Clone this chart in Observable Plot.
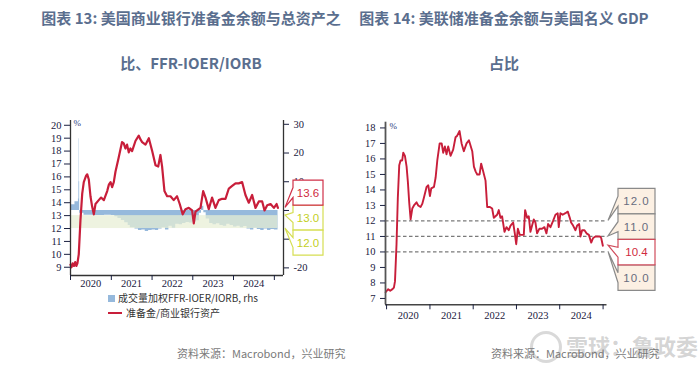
<!DOCTYPE html>
<html><head><meta charset="utf-8">
<script src="https://cdn.jsdelivr.net/npm/d3@7"></script>
<script src="https://cdn.jsdelivr.net/npm/@observablehq/plot@0.6"></script>
<style>
body{margin:0;width:700px;height:366px;position:relative;overflow:hidden;background:#fff;font-family:"Noto Sans CJK SC","Noto Sans",sans-serif;}
.title{position:absolute;top:-5px;width:330px;text-align:center;font-size:15px;font-weight:bold;color:#5a6e8e;line-height:45px;white-space:nowrap;}
.chart{position:absolute;top:100px;width:350px;height:266px;}
.src{position:absolute;top:345px;font-size:11px;line-height:16px;color:#7a7a7a;white-space:nowrap;}
.leg{position:absolute;font-size:10px;color:#333;white-space:nowrap;line-height:11px;font-family:"Noto Sans CJK SC",sans-serif;}
.wm{position:absolute;left:566px;top:330px;font-size:22px;line-height:30px;color:rgba(160,160,160,0.45);font-weight:bold;white-space:nowrap;}
.wmlogo{position:absolute;left:530px;top:331px;width:26px;height:26px;border:3px solid rgba(160,160,160,0.4);border-radius:50%;}
</style></head>
<body>
<div class="title" style="left:26px">图表 13: 美国商业银行准备金余额与总资产之<br>比、FFR-IOER/IORB</div>
<div class="title" style="left:339px">图表 14: 美联储准备金余额与美国名义 GDP<br>占比</div>
<div id="c1" class="chart" style="left:0"></div>
<div id="c2" class="chart" style="left:350px"></div>
<div class="leg" style="left:108px;top:292px"><span style="display:inline-block;width:7px;height:7px;background:#96b9dc;margin-right:3px;"></span>成交量加权FFR-IOER/IORB, rhs</div>
<div class="leg" style="left:108px;top:307px"><span style="display:inline-block;width:14px;height:2px;background:#c81e3a;margin-right:4px;vertical-align:3px"></span>准备金/商业银行资产</div>
<div class="wmlogo"></div>
<div class="wm">雪球：鲁政委</div>
<div class="src" style="left:177px">资料来源：Macrobond，兴业研究</div>
<div class="src" style="left:491px">资料来源：Macrobond，兴业研究</div>
<script>
// ---------------- data ----------------
const yearLabels = ["2020", "2021", "2022", "2023", "2024"];
const leftTicks = [9, 10, 11, 12, 13, 14, 15, 16, 17, 18, 19, 20];
const rightTicks = [-20, -10, 0, 10, 20, 30];
const rightTickLabels = ["-20", "", "", "10", "20", "30"]; // 0 and -10 sit behind the callouts
const gdpTicks = [7, 8, 9, 10, 11, 12, 13, 14, 15, 16, 17, 18];

// reserves / commercial bank assets, %
const reserveRatio = [
  ["2020-01-01", 9.2], ["2020-01-10", 9.0], ["2020-01-20", 9.3], ["2020-02-01", 9.1], ["2020-02-12", 9.4],
  ["2020-02-22", 9.1], ["2020-03-03", 9.3], ["2020-03-15", 10.0], ["2020-03-30", 12.6], ["2020-04-15", 14.7],
  ["2020-04-29", 15.6], ["2020-05-20", 16.1], ["2020-05-30", 16.2], ["2020-06-13", 15.8], ["2020-06-28", 14.5],
  ["2020-07-13", 13.7], ["2020-07-28", 13.1], ["2020-08-12", 13.9], ["2020-09-10", 14.2], ["2020-10-01", 14.4],
  ["2020-10-26", 14.2], ["2020-11-25", 14.9], ["2020-12-10", 15.4], ["2020-12-25", 15.6], ["2021-01-08", 15.2],
  ["2021-01-23", 15.6], ["2021-02-07", 16.4], ["2021-03-08", 17.5], ["2021-04-07", 18.7], ["2021-04-22", 18.6],
  ["2021-05-07", 18.2], ["2021-05-22", 18.5], ["2021-06-06", 17.9], ["2021-06-21", 18.2], ["2021-07-06", 18.0],
  ["2021-08-06", 18.8], ["2021-09-04", 19.2], ["2021-09-19", 18.9], ["2021-10-04", 18.7], ["2021-11-03", 18.5],
  ["2021-12-03", 19.0], ["2022-01-02", 18.0], ["2022-02-01", 16.9], ["2022-02-25", 16.8], ["2022-03-17", 17.7],
  ["2022-04-01", 16.8], ["2022-04-22", 14.9], ["2022-05-16", 14.5], ["2022-06-15", 14.5], ["2022-07-14", 14.2],
  ["2022-08-13", 14.5], ["2022-09-06", 13.9], ["2022-10-03", 13.1], ["2022-10-27", 13.5], ["2022-11-26", 13.6],
  ["2022-12-26", 13.4], ["2023-01-10", 12.4], ["2023-01-25", 13.3], ["2023-02-09", 13.4], ["2023-03-11", 13.6],
  ["2023-04-04", 14.9], ["2023-04-25", 14.4], ["2023-05-24", 13.5], ["2023-06-23", 14.4], ["2023-07-23", 13.6],
  ["2023-08-22", 14.2], ["2023-09-21", 14.3], ["2023-10-21", 14.3], ["2023-11-20", 15.1], ["2023-12-20", 15.3],
  ["2024-01-19", 15.5], ["2024-02-17", 15.5], ["2024-03-18", 15.6], ["2024-04-17", 14.6], ["2024-05-17", 14.0],
  ["2024-06-16", 14.6], ["2024-07-16", 13.6], ["2024-08-15", 14.1], ["2024-09-14", 14.1], ["2024-10-05", 13.4],
  ["2024-10-29", 13.8], ["2024-11-28", 13.9], ["2024-12-28", 13.6], ["2025-01-21", 13.9], ["2025-02-02", 13.6]
];

// volume-weighted FFR - IOER/IORB, bp (rhs)
const spreadBps = [
  ["2020-01-01", 2], ["2020-02-10", 3], ["2020-03-12", 4], ["2020-03-16", 25], ["2020-03-19", 10],
  ["2020-03-23", -1], ["2020-05-01", -1.7], ["2020-08-01", -1.8], ["2020-11-01", -1.7], ["2021-01-01", -1.8],
  ["2021-02-01", -2.2], ["2021-03-01", -2.8], ["2021-04-01", -3.5], ["2021-05-01", -4.3], ["2021-06-01", -5.2],
  ["2021-06-20", -6.0], ["2021-08-01", -6.5], ["2021-09-01", -7], ["2021-10-01", -6.8], ["2021-11-01", -7.3],
  ["2021-12-01", -7], ["2022-01-01", -6.8], ["2022-02-01", -7], ["2022-03-01", -6.5], ["2022-04-01", -6],
  ["2022-05-01", -6.8], ["2022-06-01", -5.5], ["2022-07-01", -6.2], ["2022-08-01", -4.8], ["2022-09-01", -5],
  ["2022-10-01", -4.5], ["2022-11-01", -4.2], ["2022-12-01", -4.4], ["2023-01-01", -4], ["2023-02-01", -3.6],
  ["2023-03-01", -1], ["2023-03-20", 1.5], ["2023-04-10", -0.8], ["2023-05-01", -3], ["2023-06-01", -4.5],
  ["2023-07-01", -5], ["2023-08-01", -4.6], ["2023-09-01", -5.2], ["2023-10-01", -5.5], ["2023-11-01", -4.8],
  ["2023-12-01", -5.2], ["2024-01-01", -5.8], ["2024-02-01", -5.5], ["2024-03-01", -6], ["2024-04-01", -5.6],
  ["2024-05-01", -6.5], ["2024-06-01", -6.8], ["2024-07-01", -6.2], ["2024-08-01", -6.6], ["2024-09-01", -7],
  ["2024-10-01", -6.5], ["2024-11-01", -7], ["2024-12-01", -6.6], ["2025-01-01", -6.8], ["2025-02-03", -6.5]
];

// Fed reserves / US nominal GDP, %
const reservesToGdp = [
  ["2019-12-24", 7.4], ["2020-01-15", 7.6], ["2020-02-01", 7.5], ["2020-02-20", 7.6], ["2020-03-03", 7.7],
  ["2020-03-12", 8.1], ["2020-03-25", 10.5], ["2020-04-05", 13.5], ["2020-04-17", 15.6], ["2020-04-28", 15.9],
  ["2020-05-12", 15.9], ["2020-05-21", 16.4], ["2020-06-04", 16.2], ["2020-06-18", 15.5], ["2020-06-29", 14.5],
  ["2020-07-10", 13.2], ["2020-07-22", 12.1], ["2020-08-05", 12.8], ["2020-08-19", 13.0], ["2020-09-10", 13.2],
  ["2020-09-24", 13.0], ["2020-10-14", 12.9], ["2020-10-28", 13.1], ["2020-11-11", 13.5], ["2020-12-04", 14.2],
  ["2020-12-18", 14.3], ["2021-01-01", 13.6], ["2021-01-12", 14.1], ["2021-02-04", 14.2], ["2021-02-18", 14.8],
  ["2021-03-04", 15.9], ["2021-03-24", 17.0], ["2021-04-10", 17.0], ["2021-04-23", 16.4], ["2021-05-07", 16.8],
  ["2021-05-21", 16.3], ["2021-06-04", 16.8], ["2021-06-24", 16.2], ["2021-07-16", 16.6], ["2021-08-05", 17.4],
  ["2021-08-19", 17.5], ["2021-09-08", 17.8], ["2021-09-25", 17.0], ["2021-10-14", 16.5], ["2021-11-06", 17.0],
  ["2021-11-26", 17.2], ["2021-12-24", 16.5], ["2022-01-07", 15.5], ["2022-01-21", 15.2], ["2022-02-04", 15.0],
  ["2022-02-24", 15.0], ["2022-03-09", 15.7], ["2022-03-26", 15.2], ["2022-04-15", 14.6], ["2022-04-29", 12.9],
  ["2022-05-22", 12.9], ["2022-06-10", 12.8], ["2022-06-24", 12.2], ["2022-07-08", 12.3], ["2022-07-22", 12.4],
  ["2022-08-05", 12.7], ["2022-08-19", 12.2], ["2022-09-02", 12.3], ["2022-09-22", 11.3], ["2022-10-09", 11.6],
  ["2022-10-28", 11.4], ["2022-11-12", 11.7], ["2022-12-04", 11.9], ["2022-12-18", 11.2], ["2022-12-30", 10.5],
  ["2023-01-13", 11.5], ["2023-01-29", 11.1], ["2023-02-18", 11.1], ["2023-03-04", 11.1], ["2023-03-15", 12.7],
  ["2023-04-01", 12.2], ["2023-04-15", 12.3], ["2023-04-29", 11.3], ["2023-05-13", 11.7], ["2023-05-27", 12.1],
  ["2023-06-10", 11.9], ["2023-06-24", 11.2], ["2023-07-14", 11.5], ["2023-08-05", 11.5], ["2023-08-25", 11.6],
  ["2023-09-11", 11.2], ["2023-09-25", 11.8], ["2023-10-15", 11.6], ["2023-11-06", 12.0], ["2023-11-26", 12.4],
  ["2023-12-15", 12.5], ["2023-12-24", 11.6], ["2024-01-07", 12.5], ["2024-01-26", 12.4], ["2024-02-18", 12.5],
  ["2024-03-09", 12.6], ["2024-03-26", 12.2], ["2024-04-06", 11.9], ["2024-04-23", 11.7], ["2024-05-13", 11.4],
  ["2024-05-27", 11.7], ["2024-06-13", 11.8], ["2024-06-24", 11.0], ["2024-07-08", 11.4], ["2024-07-28", 11.4],
  ["2024-08-14", 11.2], ["2024-09-03", 11.1], ["2024-09-23", 10.6], ["2024-10-09", 10.9], ["2024-10-29", 11.0],
  ["2024-11-18", 11.0], ["2024-12-05", 11.0], ["2024-12-16", 10.9], ["2024-12-30", 10.4]
];

// reference range (left chart band) and label values
const leftBand = [12.0, 13.0];
const leftLabelValues = [13.6, 13.0, 12.0];
const gdpRefLines = [12, 11, 10];
const rightLabelValues = [12.0, 11.0, 10.4, 10.0];

// ---------------- build ----------------
const parse = d3.utcParse("%Y-%m-%d");
const resv = reserveRatio.map(([d, v]) => ({date: parse(d), v}));
const spr = spreadBps.map(([d, v]) => ({date: parse(d), v}));
const gdp = reservesToGdp.map(([d, v]) => ({date: parse(d), v}));
const yearStarts = [...yearLabels, "2025"].map(y => parse(y + "-01-01"));
const yearMids = yearLabels.map(y => parse(y + "-07-01"));

const RZ = 13.4, RK = 0.2225; // right-axis zero on left scale, left units per bp
const toL = v => RZ + RK * v;
const rightTickPos = rightTicks.map(toL);

const axisStyle = {fontFamily: "'Liberation Serif', serif", fontSize: "10.5px", color: "#1a2040", background: "transparent", overflow: "visible"};
const RED = "#c81e3a";

const xDomL = [parse("2020-01-01"), parse("2025-03-24")];
const yDomL = [8.36, 20.37];
const p1 = Plot.plot({
  width: 350, height: 266,
  marginTop: 20, marginBottom: 91, marginLeft: 70, marginRight: 67,
  x: {type: "utc", domain: xDomL},
  y: {domain: yDomL},
  style: axisStyle,
  marks: [
    Plot.areaY(spr, {x: "date", y1: () => toL(0), y2: d => toL(d.v), curve: "step-after", fill: "#96b9dc"}),
    Plot.rect([{x1: resv[0].date, x2: resv[resv.length - 1].date, y1: leftBand[0], y2: leftBand[1]}],
      {x1: "x1", x2: "x2", y1: "y1", y2: "y2", fill: "#e7eed4", fillOpacity: 0.72}),
    Plot.lineY(resv, {x: "date", y: "v", stroke: RED, strokeWidth: 2.2}),
    Plot.ruleX([xDomL[0], xDomL[1]], {stroke: "#333", strokeWidth: 1.3}),
    Plot.ruleY([yDomL[0]], {stroke: "#333", strokeWidth: 1.3}),
    Plot.axisY({anchor: "left", ticks: leftTicks, tickSize: 6, tickPadding: 3, label: null}),
    Plot.axisY({anchor: "right", ticks: rightTickPos, tickFormat: d => rightTickLabels[rightTickPos.indexOf(d)], tickSize: 5, tickPadding: 5, label: null}),
    Plot.axisX({ticks: yearStarts, tickSize: 5, tickFormat: () => "", label: null}),
    Plot.axisX({ticks: yearMids, tickSize: 0, tickPadding: 4, tickFormat: d3.utcFormat("%Y"), label: null}),
    Plot.text(["%"], {frameAnchor: "top-left", dx: 3, dy: -1, fontSize: 9, fill: "#2a3a7a"})
  ]
});
document.getElementById("c1").appendChild(p1);

const xDomR = [parse("2019-12-23"), parse("2025-02-03")];
const yDomR = [6.59, 18.37];
const p2 = Plot.plot({
  width: 350, height: 266,
  marginTop: 21.7, marginBottom: 61.7, marginLeft: 35, marginRight: 93.5,
  x: {type: "utc", domain: xDomR},
  y: {domain: yDomR},
  style: axisStyle,
  marks: [
    Plot.ruleY(gdpRefLines, {stroke: "#7a7a7a", strokeWidth: 1.2, strokeDasharray: "3.5,2.5"}),
    Plot.lineY(gdp, {x: "date", y: "v", stroke: RED, strokeWidth: 1.9}),
    Plot.ruleX([xDomR[0]], {stroke: "#555", strokeWidth: 1.8}),
    Plot.ruleY([yDomR[0]], {stroke: "#444", strokeWidth: 1.5}),
    Plot.axisY({anchor: "left", ticks: gdpTicks, tickSize: 5, tickPadding: 5, label: null}),
    Plot.axisX({ticks: yearStarts, tickSize: 5, tickFormat: () => "", label: null}),
    Plot.axisX({ticks: yearMids, tickSize: 0, tickPadding: 7, tickFormat: d3.utcFormat("%Y"), label: null}),
    Plot.text(["%"], {frameAnchor: "top-left", dx: 4, dy: 0, fontSize: 9, fill: "#2a3a7a"})
  ]
});
document.getElementById("c2").appendChild(p2);

// callout labels at the right edge, placed through the plots' scales
function callouts(plot, items, o) {
  const xs = plot.scale("x"), ys = plot.scale("y");
  const xEnd = xs.range[1];
  const tips = items.map(d => ys.apply(d.v));
  const mid = d3.mean(tips) + o.shift;
  const n = items.length;
  const g = d3.select(plot).append("g");
  const boxLeft = xEnd + o.gap, tipX = xEnd + o.tip;
  const order = d3.range(n).sort((a, b) => (items[a].front ? 1 : 0) - (items[b].front ? 1 : 0));
  for (const i of order) {
    const d = items[i];
    const cy = mid + (i - (n - 1) / 2) * o.h;
    const top = cy - o.h / 2, bot = cy + o.h / 2;
    const path = `M${boxLeft},${top}H${boxLeft + o.w}V${bot}H${boxLeft}V${cy + 5}L${tipX},${tips[i]}L${boxLeft},${cy - 5}Z`;
    g.append("path").attr("d", path).attr("fill", d.fill).attr("stroke", d.stroke).attr("stroke-width", 1.2);
    g.append("text").attr("x", boxLeft + o.w / 2).attr("y", cy).attr("dy", "0.36em")
      .attr("text-anchor", "middle").attr("fill", d.color)
      .attr("font-family", "'Liberation Sans', Arial, sans-serif").attr("font-size", o.fs)
      .attr("letter-spacing", d.ls || 0)
      .text(d.v.toFixed(1));
  }
}

callouts(p1, [
  {v: leftLabelValues[0], fill: "#fff", stroke: "#d03048", color: "#d02a40", front: true},
  {v: leftLabelValues[1], fill: "#fff", stroke: "#d6de52", color: "#c3cf1e"},
  {v: leftLabelValues[2], fill: "#fff", stroke: "#d6de52", color: "#c3cf1e"}
], {gap: 10, tip: 2, w: 30, h: 25, shift: 0.7, fs: 11.5});

callouts(p2, [
  {v: rightLabelValues[0], fill: "#fcf0e3", stroke: "#8a8a8a", color: "#686c7e", ls: 1},
  {v: rightLabelValues[1], fill: "#fcf0e3", stroke: "#8a8a8a", color: "#686c7e", ls: 1},
  {v: rightLabelValues[2], fill: "#fff", stroke: "#d04c5c", color: "#d02a40", front: true},
  {v: rightLabelValues[3], fill: "#fcf0e3", stroke: "#8a8a8a", color: "#686c7e", ls: 1}
], {gap: 11.5, tip: 1.5, w: 37, h: 25.5, shift: 1.2, fs: 11.5});
</script>
</body></html>
